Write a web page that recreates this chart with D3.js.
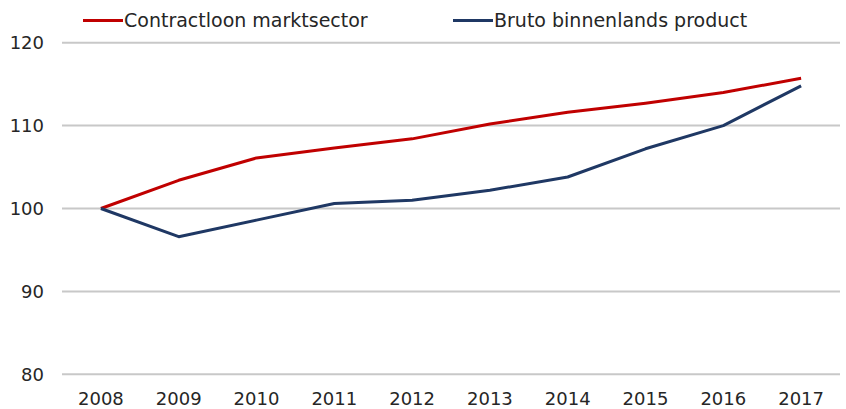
<!DOCTYPE html>
<html>
<head>
<meta charset="utf-8">
<script src="https://cdn.jsdelivr.net/npm/d3@7"></script>
<style>
  html, body { margin: 0; padding: 0; background: #fff; }
  svg text { font-family: "DejaVu Sans", sans-serif; fill: #262626; }
</style>
</head>
<body>
<svg id="chart" width="846" height="409"></svg>
<script>
// ---------------------------------------------------------
// Contractloon vs BBP, index 2008 = 100
// ---------------------------------------------------------
const years = ["2008", "2009", "2010", "2011", "2012", "2013", "2014", "2015", "2016", "2017"];
const loon  = [100, 103.4, 106.1, 107.3, 108.4, 110.2, 111.6, 112.7, 114.0, 115.7];
const bbp   = [100, 96.6, 98.6, 100.6, 101.0, 102.2, 103.8, 107.2, 110.0, 114.8];
const yTicks = [80, 90, 100, 110, 120];

const seriesNames  = ["Contractloon marktsector", "Bruto binnenlands product"];
const seriesColors = ["#c00000", "#1f3864"];

const svg = d3.select("#chart");

// plot area
const plotLeft = 62, plotRight = 840, plotTop = 42.7, plotBottom = 374.3;

const x = d3.scaleBand().domain(years).range([plotLeft, plotRight]).padding(0);
const y = d3.scaleLinear().domain([80, 120]).range([plotBottom, plotTop]);

// gridlines
svg.append("g")
  .selectAll("line")
  .data(yTicks)
  .enter()
  .append("line")
  .attr("x1", plotLeft)
  .attr("x2", plotRight)
  .attr("y1", d => y(d))
  .attr("y2", d => y(d))
  .attr("stroke", "#c8c8c8")
  .attr("stroke-width", 2);

// y labels
svg.append("g")
  .selectAll("text")
  .data(yTicks)
  .enter()
  .append("text")
  .attr("x", 44)
  .attr("y", d => y(d))
  .attr("dy", "0.36em")
  .attr("text-anchor", "end")
  .style("font-size", "18px")
  .text(d => d);

// x labels
svg.append("g")
  .selectAll("text")
  .data(years)
  .enter()
  .append("text")
  .attr("x", d => x(d) + x.bandwidth() / 2)
  .attr("y", 399)
  .attr("dy", "0.36em")
  .attr("text-anchor", "middle")
  .style("font-size", "18px")
  .text(d => d);

// lines
const line = d3.line()
  .x((d, i) => x(years[i]) + x.bandwidth() / 2)
  .y(d => y(d));

[loon, bbp].forEach((vals, i) => {
  svg.append("path")
    .datum(vals)
    .attr("d", line)
    .attr("fill", "none")
    .attr("stroke", seriesColors[i])
    .attr("stroke-width", 3)
    .attr("stroke-linejoin", "round");
});

// legend
const legendX = [83, 453];
const legend = svg.append("g")
  .selectAll("g")
  .data(seriesNames)
  .enter()
  .append("g")
  .attr("transform", (d, i) => `translate(${legendX[i]},20.5)`);

legend.append("line")
  .attr("x1", 0).attr("x2", 40)
  .attr("y1", 0).attr("y2", 0)
  .attr("stroke", (d, i) => seriesColors[i])
  .attr("stroke-width", 3);

legend.append("text")
  .attr("x", 41)
  .attr("y", 0)
  .attr("dy", "0.36em")
  .style("font-size", "19px")
  .text(d => d);
</script>
</body>
</html>
